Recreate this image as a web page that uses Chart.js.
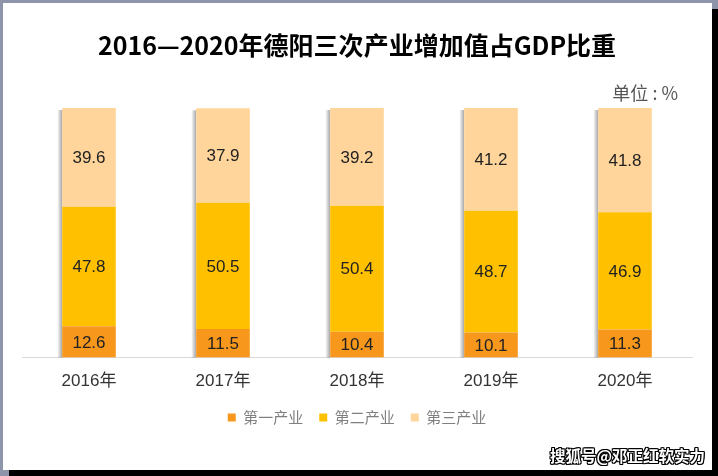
<!DOCTYPE html>
<html>
<head>
<meta charset="utf-8">
<script src="https://cdn.jsdelivr.net/npm/chart.js@4/dist/chart.umd.min.js"></script>
<style>
  html, body { margin: 0; padding: 0; }
  body { width: 718px; height: 476px; background: #8e95aa; position: relative; overflow: hidden; }
  #paper { position: absolute; left: 3px; top: 3px; width: 709px; height: 467px; background: #fff; box-shadow: 6px 6px 0 0 #000; }
  #wrap { position: absolute; left: 0; top: 0; width: 718px; height: 476px; }
  #unit { position: absolute; right: 40px; top: 79px; font: 18px "Noto Sans CJK SC", sans-serif; color: #555; }
  #mark { position: absolute; right: 13px; top: 444px; font: bold 15.5px "Noto Sans CJK SC", sans-serif; color: #fff;
          text-shadow: -1px -1px 0 #000, 1px -1px 0 #000, -1px 1px 0 #000, 1px 1px 0 #000, 0 1px 0 #000, 0 -1px 0 #000, 1px 0 0 #000, -1px 0 0 #000; }
</style>
</head>
<body>
<div id="paper"></div>
<div id="wrap"><canvas id="grafica" width="718" height="476"></canvas></div>
<div id="unit">单位 : %</div>
<div id="mark">搜狐号@邓正红软实力</div>
<script>
// datos
var anios = ['2016年', '2017年', '2018年', '2019年', '2020年'];
var primaria = [12.6, 11.5, 10.4, 10.1, 11.3];
var secundaria = [47.8, 50.5, 50.4, 48.7, 46.9];
var terciaria = [39.6, 37.9, 39.2, 41.2, 41.8];
var nombres = ['第一产业', '第二产业', '第三产业'];
var colores = ['#F7981C', '#FFC000', '#FFD59B'];

// sombra gris a la izquierda de cada columna
const sombra = {
    id: 'sombra',
    beforeDatasetsDraw(chart) {
        const ctx = chart.ctx;
        const abajo = chart.getDatasetMeta(0).data;
        const arriba = chart.getDatasetMeta(2).data;
        abajo.forEach((bar, i) => {
            const izq = bar.x - bar.width / 2;
            const top = arriba[i].y;
            const g = ctx.createLinearGradient(izq - 5, 0, izq, 0);
            g.addColorStop(0, 'rgba(0,0,0,0)');
            g.addColorStop(1, 'rgba(0,0,0,0.35)');
            ctx.save();
            ctx.fillStyle = g;
            ctx.fillRect(izq - 5, top + 2, 5, bar.base - top - 2);
            ctx.restore();
        });
    }
};

// etiquetas de valor en el centro de cada segmento
const etiquetas = {
    id: 'etiquetas',
    afterDatasetsDraw(chart) {
        const ctx = chart.ctx;
        ctx.save();
        ctx.font = '17px "Liberation Sans", Arial, sans-serif';
        ctx.fillStyle = '#222';
        ctx.textAlign = 'center';
        ctx.textBaseline = 'middle';
        chart.data.datasets.forEach((ds, d) => {
            chart.getDatasetMeta(d).data.forEach((bar, i) => {
                ctx.fillText(ds.data[i].toFixed(1), bar.x, (bar.y + bar.base) / 2 + 1);
            });
        });
        ctx.restore();
    }
};

const data = {
    labels: anios,
    datasets: [
        { label: nombres[0], data: primaria, backgroundColor: colores[0] },
        { label: nombres[1], data: secundaria, backgroundColor: colores[1] },
        { label: nombres[2], data: terciaria, backgroundColor: colores[2] }
    ]
};

const options = {
    responsive: false,
    animation: false,
    layout: { padding: { left: 22, right: 26, top: 0, bottom: 41 } },
    datasets: { bar: { categoryPercentage: 1, barPercentage: 0.4 } },
    scales: {
        x: {
            stacked: true,
            grid: { display: false, drawTicks: false },
            border: { color: '#d9d9d9', width: 1 },
            ticks: { color: '#333', padding: 14, font: { size: 17, family: '"Liberation Sans", "Noto Sans CJK SC", sans-serif' } },
            afterFit: s => { s.height -= 12; }
        },
        y: { stacked: true, display: false, min: 0, max: 100 }
    },
    plugins: {
        title: {
            display: true,
            text: '2016—2020年德阳三次产业增加值占GDP比重',
            color: '#000',
            font: { size: 25, weight: 'bold', family: '"Noto Sans CJK SC", sans-serif' },
            padding: { top: 30, bottom: 48 }
        },
        legend: {
            position: 'bottom',
            labels: {
                boxWidth: 8, boxHeight: 8, padding: 16, color: '#7f7f7f',
                font: { size: 15, family: '"Noto Sans CJK SC", sans-serif' }
            }
        },
        tooltip: { enabled: false }
    }
};

new Chart('grafica', { type: 'bar', data, options, plugins: [sombra, etiquetas] });
</script>
</body>
</html>
